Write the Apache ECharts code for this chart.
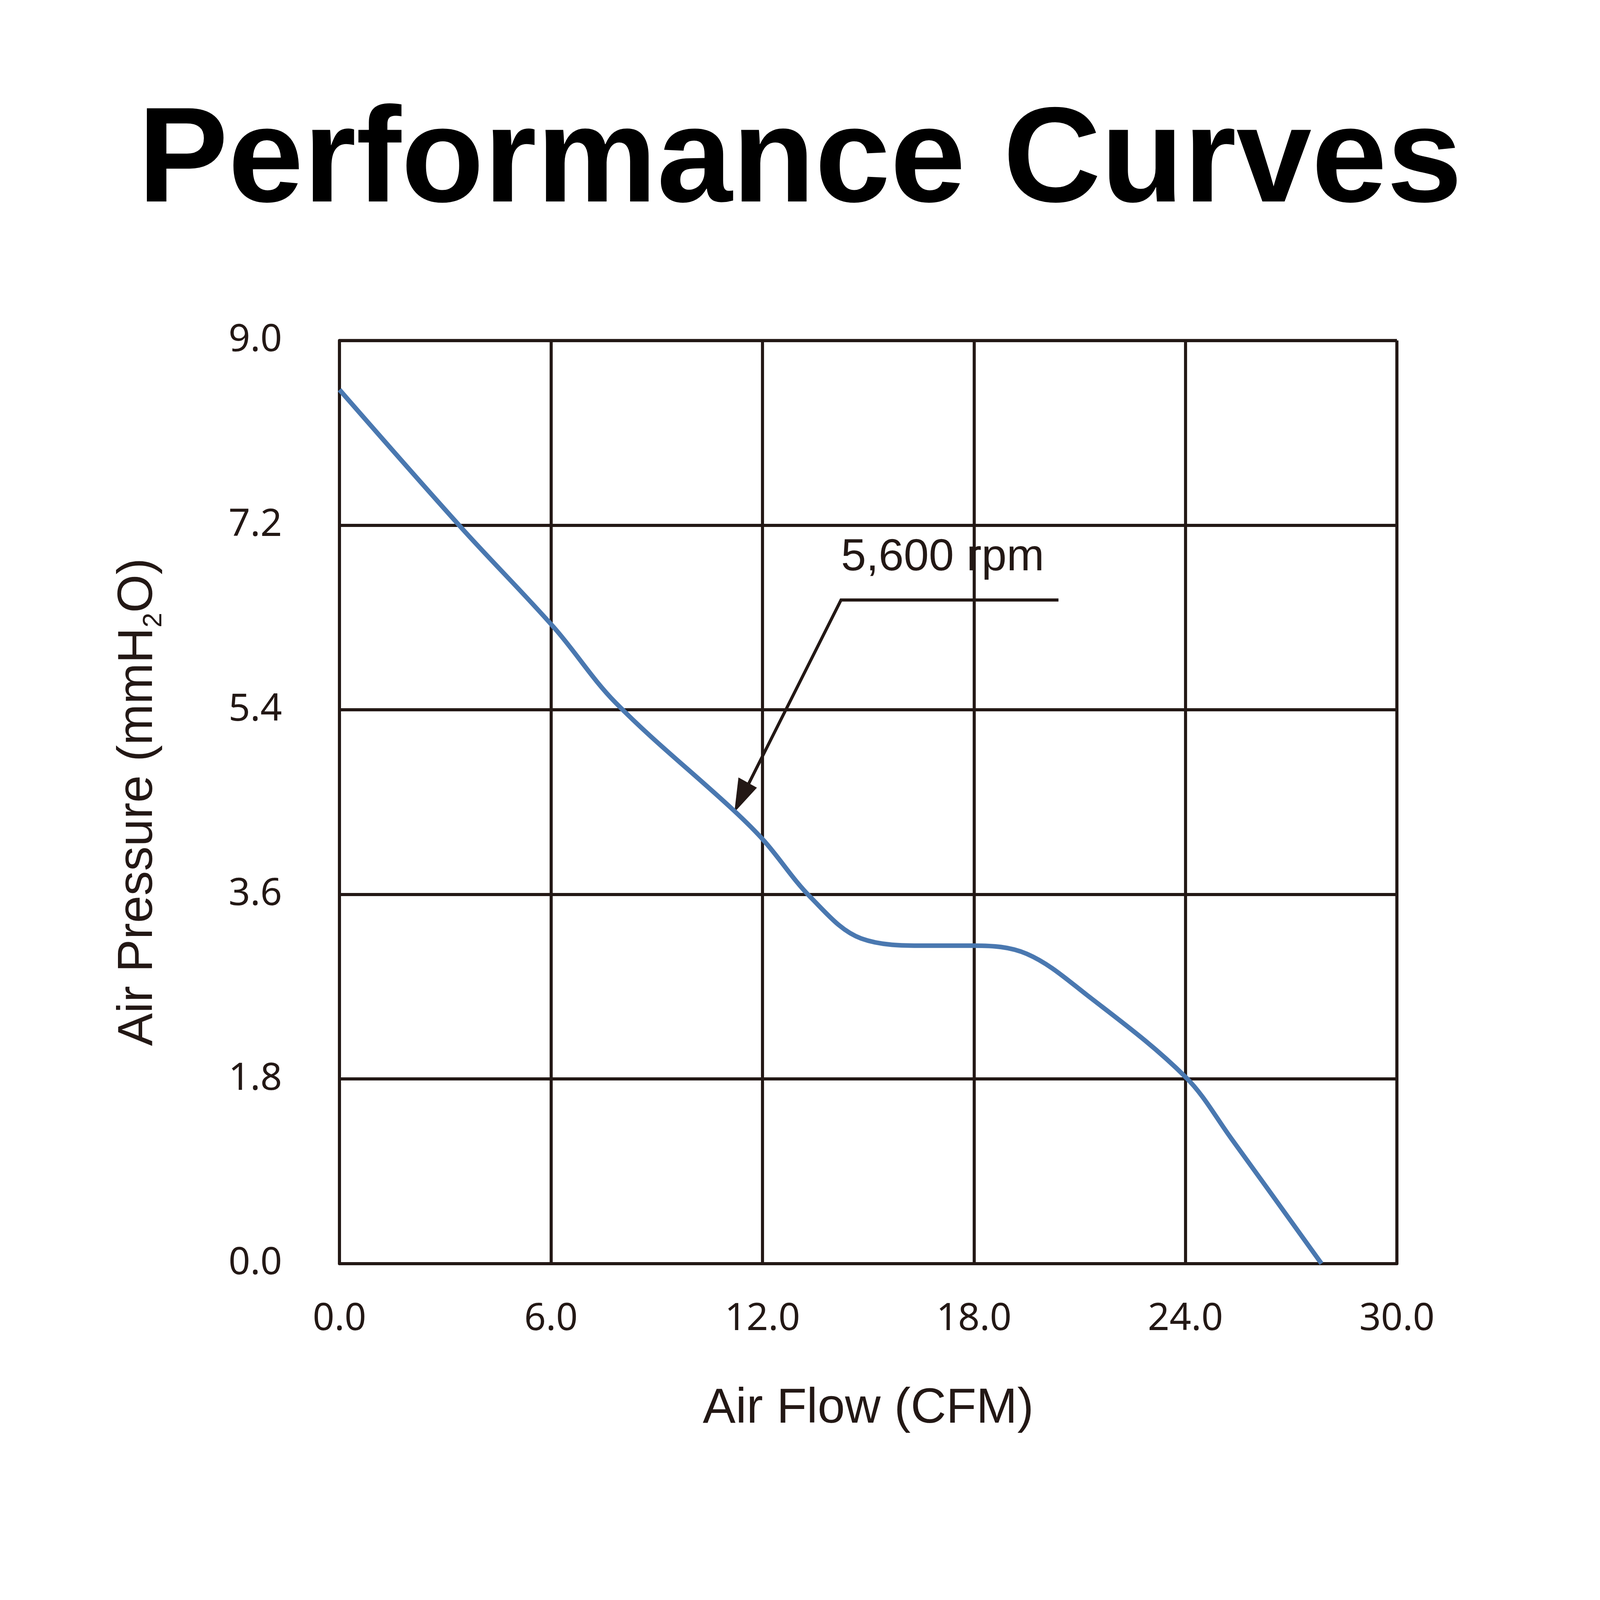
<!DOCTYPE html>
<html><head><meta charset="utf-8">
<script src="https://cdn.jsdelivr.net/npm/echarts@6/dist/echarts.min.js"></script>
<style>html,body{margin:0;padding:0;background:#fff;overflow:hidden}</style>
</head><body><div id="c"></div>
<script>
var flow = [0, 3.47, 6.09, 7.83, 11.18, 12.05, 13.37, 14.8, 16.6, 18.0, 19.5, 21.2, 24.0, 25.3, 27.86];
var pressure = [8.52, 7.17, 6.2, 5.47, 4.42, 4.12, 3.57, 3.17, 3.1, 3.1, 3.02, 2.62, 1.82, 1.22, 0];
var xTicks = [0, 6, 12, 18, 24, 30];
var yTicks = [0, 1.8, 3.6, 5.4, 7.2, 9.0];

var W = Math.min(window.innerWidth, window.innerHeight) || 5000;
var el = document.getElementById('c');
el.style.width = W + 'px';
el.style.height = W + 'px';
var chart = echarts.init(el);
var S = W / 1560;
var ink = '#231815';
chart.setOption({
  backgroundColor: '#fff',
  title: {
    text: 'Performance Curves', left: 'center', top: 92 * S,
    textStyle: { fontFamily: 'Liberation Sans', fontWeight: 'bold', fontSize: 132 * S, color: '#000' }
  },
  grid: { left: 331 * S, right: W - 1362 * S, top: 332 * S, bottom: W - 1232 * S },
  xAxis: {
    type: 'value', min: 0, max: 30, interval: 6,
    name: 'Air Flow (CFM)', nameLocation: 'middle', nameGap: 118 * S,
    nameTextStyle: { fontFamily: 'Liberation Sans', fontSize: 48 * S, color: ink },
    axisLine: { lineStyle: { color: ink, width: 3 * S } },
    axisTick: { show: false },
    splitLine: { lineStyle: { color: ink, width: 3 * S } },
    axisLabel: { margin: 36 * S, fontFamily: 'Noto Sans', fontSize: 37 * S, color: ink, formatter: function (v) { return v.toFixed(1); } }
  },
  yAxis: {
    type: 'value', min: 0, max: 9, interval: 1.8,
    name: '{n|Air Pressure (mmH}{s|2}{n|O)}', nameLocation: 'middle', nameGap: 168 * S, nameRotate: 90,
    nameTextStyle: { rich: {
      n: { fontFamily: 'Liberation Sans', fontSize: 48 * S, color: ink },
      s: { fontFamily: 'Liberation Sans', fontSize: 26 * S, color: ink, verticalAlign: 'bottom', padding: [30 * S, 0, 0, 0] }
    } },
    axisLine: { show: true, lineStyle: { color: ink, width: 3 * S } },
    axisTick: { show: false },
    splitLine: { lineStyle: { color: ink, width: 3 * S } },
    axisLabel: { margin: 56 * S, fontFamily: 'Noto Sans', fontSize: 37 * S, color: ink, formatter: function (v) { return v.toFixed(1); } }
  },
  series: [{
    type: 'line', smooth: 0.35, symbol: 'none',
    lineStyle: { color: '#4a78b0', width: 4.5 * S },
    data: flow.map(function (x, i) { return [x, pressure[i]]; })
  }],
  graphic: [
    { type: 'rect', shape: { x: 1362 * S - 1.5 * S, y: 332 * S, width: 3 * S, height: 900 * S }, style: { fill: ink } },
    { type: 'rect', shape: { x: 331 * S, y: 332 * S - 1.5 * S, width: 1031 * S, height: 3 * S }, style: { fill: ink } },
    { type: 'text', left: 820 * S, top: 522 * S, style: { text: '5,600 rpm', font: (44 * S) + 'px "Liberation Sans"', fill: ink } },
    { type: 'polyline', shape: { points: [[1032 * S, 585 * S], [820 * S, 585 * S], [728 * S, 768 * S]] }, style: { stroke: ink, lineWidth: 3 * S, fill: null } },
    { type: 'polygon', shape: { points: [[716 * S, 792 * S], [720 * S, 758 * S], [738 * S, 768 * S]] }, style: { fill: ink } }
  ]
});
</script></body></html>
